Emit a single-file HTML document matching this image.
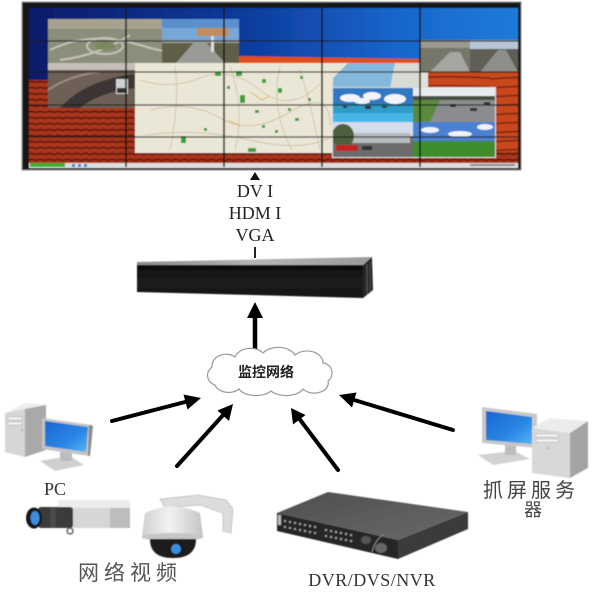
<!DOCTYPE html>
<html><head><meta charset="utf-8">
<style>
html,body{margin:0;padding:0;background:#fff;width:600px;height:600px;overflow:hidden}
svg{display:block}
.serif{font-family:"Liberation Serif","Noto Serif CJK SC",serif}
.cjk{font-family:"Liberation Sans","Noto Sans CJK SC",sans-serif}
</style></head>
<body>
<svg width="600" height="600" viewBox="0 0 600 600" xmlns="http://www.w3.org/2000/svg">
<defs>
  <linearGradient id="sky" x1="0" y1="0" x2="1" y2="0">
    <stop offset="0" stop-color="#0b1c6a"/>
    <stop offset="0.45" stop-color="#0f3c9e"/>
    <stop offset="0.75" stop-color="#1866cb"/>
    <stop offset="1" stop-color="#1e7bd8"/>
  </linearGradient>
  <pattern id="desert" width="9" height="6" patternUnits="userSpaceOnUse">
    <rect width="9" height="6" fill="#a8361a"/>
    <path d="M0,4.5 Q4.5,2.5 9,4.5" stroke="#5c1408" stroke-width="1.6" fill="none"/>
  </pattern>
  <pattern id="redr" width="98" height="9" patternUnits="userSpaceOnUse">
    <rect width="98" height="9" fill="#c8461c"/>
    <path d="M0,7 Q50,3 98,6" stroke="#7c220c" stroke-width="1.5" fill="none"/>
  </pattern>
  <linearGradient id="scr" x1="0" y1="0" x2="1" y2="1">
    <stop offset="0" stop-color="#1a66d2"/>
    <stop offset="0.6" stop-color="#2a86e4"/>
    <stop offset="1" stop-color="#5ab4f2"/>
  </linearGradient>
  <linearGradient id="boxf" x1="0" y1="0" x2="0" y2="1">
    <stop offset="0" stop-color="#0c0c0c"/>
    <stop offset="0.5" stop-color="#1e1e1e"/>
    <stop offset="1" stop-color="#141414"/>
  </linearGradient>
  <linearGradient id="boxt" x1="0" y1="0" x2="1" y2="0">
    <stop offset="0" stop-color="#8a8a8a"/>
    <stop offset="0.5" stop-color="#b4b4b4"/>
    <stop offset="1" stop-color="#9a9a9a"/>
  </linearGradient>
  <linearGradient id="dvrtop" x1="0" y1="0" x2="1" y2="1">
    <stop offset="0" stop-color="#4e4e4e"/>
    <stop offset="1" stop-color="#6a6a6a"/>
  </linearGradient>
  <linearGradient id="dome" x1="0" y1="0" x2="1" y2="0">
    <stop offset="0" stop-color="#d0d0d0"/>
    <stop offset="0.45" stop-color="#f2f2f2"/>
    <stop offset="1" stop-color="#c4c4c4"/>
  </linearGradient>
  <filter id="soft"><feGaussianBlur stdDeviation="0.6"/></filter>
</defs>

<!-- ============ VIDEO WALL ============ -->
<g filter="url(#soft)">
  <rect x="22" y="2" width="499" height="168" fill="#141414" stroke="#8a8a8a" stroke-width="1"/>
  <rect x="29" y="8" width="489" height="157" fill="url(#sky)"/>
  <rect x="29" y="80" width="110" height="85" fill="url(#desert)"/>
  <polygon points="239,56 420,59 420,64 239,64" fill="#e0501c"/>
  <rect x="420" y="72" width="98" height="93" fill="url(#redr)"/>
  <rect x="135" y="152" width="383" height="12" fill="url(#desert)"/>
  <rect x="135" y="63" width="285" height="90" fill="#ebe7d6"/>
  <rect x="420" y="72" width="8" height="16" fill="#e4e2d6"/>
  <polygon points="348,63 408,63 398,88 333,88 333,78" fill="#86b8de"/>
  <polygon points="395,63 420,63 420,88 390,88" fill="#d8dcd4"/>
  <g stroke="#c9bda6" stroke-width="0.8" fill="none">
    <path d="M140,80 Q170,90 200,78 T260,90 T320,84"/>
    <path d="M150,110 Q190,100 220,118 T290,112 T330,125"/>
    <path d="M175,66 Q180,100 170,150"/>
    <path d="M230,66 Q245,110 235,150"/>
    <path d="M280,66 Q270,110 292,150"/>
    <path d="M145,135 Q200,128 250,140 T330,138"/>
    <path d="M300,70 Q310,100 320,150"/>
  </g>
  <g stroke="#d8b040" stroke-width="0.8" fill="none">
    <path d="M250,92 L262,100 L270,96"/>
    <path d="M228,120 L240,126"/>
  </g>
  <g fill="#3aa040">
    <rect x="215" y="72" width="6" height="4"/><rect x="236" y="71" width="6" height="5"/>
    <rect x="262" y="79" width="4" height="4"/><rect x="240" y="95" width="5" height="8"/>
    <rect x="278" y="88" width="4" height="5"/><rect x="255" y="110" width="4" height="3"/>
    <rect x="181" y="136" width="5" height="7"/><rect x="248" y="148" width="8" height="4"/>
    <rect x="288" y="108" width="3" height="3"/><rect x="300" y="76" width="3" height="3"/>
    <rect x="204" y="128" width="3" height="3"/><rect x="275" y="130" width="3" height="3"/>
    <rect x="227" y="86" width="3" height="3"/><rect x="262" y="125" width="3" height="3"/>
    <rect x="295" y="118" width="4" height="3"/><rect x="308" y="98" width="3" height="3"/>
  </g>
  <rect x="48" y="19" width="114" height="44" fill="#8c8e7c"/>
  <rect x="48" y="19" width="114" height="10" fill="#a6a28e"/>
  <g stroke="#c4c2b4" stroke-width="2" fill="none">
    <path d="M50,50 Q90,30 140,45 T162,40"/>
    <ellipse cx="105" cy="46" rx="18" ry="8"/>
    <path d="M60,60 Q100,55 130,35"/>
  </g>
  <ellipse cx="105" cy="46" rx="10" ry="4" fill="#7a8a5e"/>
  <rect x="162" y="19" width="77" height="22" fill="#74a8d8"/>
  <rect x="162" y="19" width="77" height="9" fill="#5a90cc"/>
  <rect x="162" y="41" width="77" height="22" fill="#5e5e46"/>
  <polygon points="195,41 205,41 225,63 176,63" fill="#9a9a96"/>
  <rect x="162" y="40" width="77" height="3" fill="#a0a29a"/>
  <rect x="197" y="28" width="32" height="8" fill="#c48c5c"/>
  <rect x="211" y="36" width="3" height="16" fill="#dcdcdc"/>
  <rect x="48" y="63" width="87" height="45" fill="#6e6056"/>
  <rect x="48" y="63" width="87" height="7" fill="#c6beb6"/>
  <path d="M60,108 Q85,80 135,74 L135,88 Q100,92 80,108 z" fill="#3c3634"/>
  <path d="M48,90 Q70,75 100,72" stroke="#9a8c82" stroke-width="2" fill="none"/>
  <rect x="116" y="79" width="12" height="15" fill="#cfcfcf"/>
  <rect x="117" y="88" width="10" height="5" fill="#333"/>
  <rect x="420" y="40" width="50" height="32" fill="#76766a"/>
  <rect x="420" y="40" width="50" height="8" fill="#9a9a8e"/>
  <polygon points="430,72 450,52 460,52 470,72" fill="#a6a6a0"/>
  <rect x="470" y="40" width="48" height="32" fill="#5e5e56"/>
  <rect x="470" y="40" width="48" height="9" fill="#b6c6d6"/>
  <polygon points="480,72 498,50 506,50 518,72" fill="#8e8e8a"/>
  <rect x="333" y="88" width="80" height="34" fill="#2f78c4"/>
  <g fill="#f2f4f8">
    <ellipse cx="350" cy="98" rx="10" ry="4"/><ellipse cx="372" cy="96" rx="9" ry="4"/>
    <ellipse cx="395" cy="99" rx="11" ry="5"/><ellipse cx="362" cy="101" rx="8" ry="3"/>
  </g>
  <rect x="333" y="104" width="80" height="9" fill="#2e9cc6"/>
  <rect x="333" y="113" width="80" height="9" fill="#44b6e6"/>
  <g fill="#333"><rect x="343" y="106" width="4" height="2"/><rect x="365" y="106" width="6" height="3"/><rect x="382" y="106" width="5" height="2"/></g>
  <rect x="413" y="88" width="82" height="34" fill="#8a8c90"/>
  <rect x="413" y="88" width="82" height="8" fill="#e6ecf0"/>
  <rect x="413" y="96" width="82" height="4" fill="#4a5040"/>
  <polygon points="413,100 440,100 430,122 413,122" fill="#5a8a3c"/>
  <g fill="#333"><rect x="450" y="104" width="6" height="3"/><rect x="470" y="108" width="7" height="3"/><rect x="484" y="102" width="6" height="3"/></g>
  <rect x="333" y="122" width="80" height="35" fill="#6c6c6c"/>
  <rect x="333" y="122" width="80" height="14" fill="#d2dcea"/>
  <rect x="350" y="133" width="60" height="10" fill="#b8bcc0"/>
  <ellipse cx="343" cy="136" rx="11" ry="12" fill="#4e5e3e"/>
  <rect x="336" y="145" width="22" height="6" fill="#c42020"/>
  <rect x="362" y="146" width="10" height="4" fill="#333"/>
  <rect x="413" y="122" width="82" height="35" fill="#3f8e2c"/>
  <rect x="413" y="122" width="82" height="19" fill="#4c80d2"/>
  <g fill="#eef2fa"><ellipse cx="430" cy="130" rx="9" ry="3"/><ellipse cx="460" cy="134" rx="12" ry="3"/><ellipse cx="485" cy="127" rx="8" ry="3"/></g>
  <rect x="332.5" y="87.5" width="163" height="70" fill="none" stroke="#d8d8d8" stroke-width="1"/>
  <rect x="29" y="163" width="489" height="5" fill="#dedede"/>
  <rect x="30" y="163" width="35" height="4" fill="#3cb030"/>
  <g fill="#4a7ad0"><rect x="72" y="164" width="3" height="3"/><rect x="78" y="164" width="3" height="3"/><rect x="84" y="164" width="3" height="3"/></g>
  <rect x="470" y="164" width="45" height="2" fill="#888"/>
  <g stroke="#121212" stroke-width="1.5">
    <line x1="126" y1="8" x2="126" y2="167"/><line x1="224" y1="8" x2="224" y2="167"/>
    <line x1="322" y1="8" x2="322" y2="167"/><line x1="420" y1="8" x2="420" y2="167"/>
  </g>
  <g stroke="#1c1c1c" stroke-width="1.2" opacity="0.85">
    <line x1="29" y1="41" x2="518" y2="41"/><line x1="29" y1="72" x2="518" y2="72"/>
    <line x1="29" y1="105" x2="518" y2="105"/><line x1="29" y1="137" x2="518" y2="137"/>
  </g>
</g>

<polygon points="255,172 250,180 260,180" fill="#111"/>
<g class="serif" font-size="18" fill="#222" text-anchor="middle">
  <text x="255" y="197">DV I</text>
  <text x="255" y="219">HDM I</text>
  <text x="255" y="241">VGA</text>
</g>
<line x1="255" y1="247" x2="255" y2="258" stroke="#222" stroke-width="2"/>

<g filter="url(#soft)">
  <polygon points="137,262 372,257 363,265 137,266" fill="url(#boxt)"/>
  <polygon points="137,265 363,265 363,298 137,292" fill="url(#boxf)"/>
  <polygon points="363,265 372,257 373,290 363,298" fill="#262626"/>
  <line x1="367" y1="264" x2="367" y2="294" stroke="#5a5a5a" stroke-width="1"/>
  <line x1="370" y1="262" x2="370" y2="291" stroke="#4a4a4a" stroke-width="1"/>
</g>

<line x1="255" y1="353" x2="255" y2="314" stroke="#000" stroke-width="4.5"/>
<polygon points="255,302 247,318 263,318" fill="#000"/>

<path d="M215,385 a10,10 0 0 1 -3,-18 a14,12 0 0 1 23,-10 a16,12 0 0 1 28,-4 a18,12 0 0 1 32,2 a16,12 0 0 1 28,8 a10,10 0 0 1 5,18 a14,10 0 0 1 -25,8 a18,10 0 0 1 -32,2 a18,10 0 0 1 -32,-2 a14,10 0 0 1 -24,-4 z" fill="#fff" stroke="#9a9a9a" stroke-width="1.2"/>
<text x="266" y="377" class="cjk" font-size="14" font-weight="bold" fill="#222" text-anchor="middle">监控网络</text>

<g stroke="#000" stroke-width="4" stroke-linecap="round">
  <line x1="112" y1="421" x2="189" y2="401"/>
  <line x1="177" y1="466" x2="225" y2="413"/>
  <line x1="338" y1="470" x2="298" y2="417"/>
  <line x1="453" y1="430" x2="351" y2="399"/>
</g>
<g fill="#000">
  <polygon points="201,398 183.5,394.5 187.5,409.5"/>
  <polygon points="233,404 217.5,410.5 229,421"/>
  <polygon points="291,408 293,424.5 305.5,415"/>
  <polygon points="339,395 352,407.5 356.5,392.5"/>
</g>

<g filter="url(#soft)">
  <polygon points="5,413 26,403 46,405 25,409" fill="#ececec"/>
  <polygon points="5,413 25,409 25,457 5,452" fill="#d6d6d6"/>
  <polygon points="25,409 46,405 46,450 25,457" fill="#a9a9a9"/>
  <rect x="8" y="417" width="14" height="3" fill="#f4f4f4" stroke="#aaa" stroke-width="0.5"/>
  <rect x="8" y="422" width="14" height="3" fill="#f4f4f4" stroke="#aaa" stroke-width="0.5"/>
  <circle cx="22" cy="430" r="1" fill="#6c6"/>
  <polygon points="40,461 70,456 84,465 55,471" fill="#cfcfcf"/>
  <rect x="60" y="449" width="12" height="12" fill="#bdbdbd"/>
  <polygon points="42,418 92,425 89,456 42,449" fill="#c4c4c4"/>
  <polygon points="89,425 93,426 90,456 88,456" fill="#8a8a8a"/>
  <polygon points="45,421 88,427 86,452 45,446" fill="url(#scr)"/>
</g>
<text x="55" y="495" class="serif" font-size="18" fill="#333" text-anchor="middle">PC</text>

<g filter="url(#soft)">
  <rect x="58" y="500" width="72" height="28" rx="3" fill="#d6d6d6"/>
  <rect x="58" y="500" width="72" height="8" rx="3" fill="#ececec"/>
  <rect x="110" y="508" width="20" height="20" fill="#bdbdbd"/>
  <rect x="38" y="507" width="35" height="21" rx="3" fill="#3a3a3a"/>
  <rect x="50" y="507" width="6" height="21" fill="#4a4a4a"/>
  <ellipse cx="34" cy="518" rx="8" ry="10.5" fill="#161616"/>
  <ellipse cx="35" cy="518" rx="4.5" ry="7" fill="#3b8ee0"/>
  <circle cx="70" cy="531" r="3" fill="none" stroke="#555" stroke-width="1.3"/>
  <polygon points="160,499 198,495 226,500 233,509 231,533 223,531 223,513 200,505 165,508" fill="#dcdcdc" stroke="#bdbdbd" stroke-width="0.8"/>
  <path d="M142,536 L145,513 Q172,500 200,513 L203,536 z" fill="url(#dome)"/>
  <ellipse cx="172.5" cy="537" rx="31" ry="4" fill="#c6c6c6"/>
  <path d="M150,539 Q150,558 173,558 Q196,558 196,539 z" fill="#1c1c1c"/>
  <circle cx="176" cy="549" r="5" fill="#3b8ee0"/>
</g>
<text x="130" y="580" class="cjk" font-size="21" letter-spacing="5" fill="#555" text-anchor="middle">网络视频</text>

<g filter="url(#soft)">
  <polygon points="277,513 328,492 468,512 398,540" fill="url(#dvrtop)"/>
  <polygon points="277,513 398,540 398,559 277,531" fill="#282828"/>
  <polygon points="398,540 468,512 468,529 398,559" fill="#3a3a3a"/>
  <g fill="#9a9a9a">
    <rect x="284" y="520" width="2" height="2"/><rect x="289" y="521" width="2" height="2"/><rect x="294" y="522" width="2" height="2"/><rect x="299" y="523" width="2" height="2"/><rect x="304" y="524" width="2" height="2"/><rect x="309" y="525" width="2" height="2"/><rect x="314" y="526" width="2" height="2"/>
    <rect x="284" y="526" width="2" height="2"/><rect x="289" y="527" width="2" height="2"/><rect x="294" y="528" width="2" height="2"/><rect x="299" y="529" width="2" height="2"/><rect x="304" y="530" width="2" height="2"/><rect x="309" y="531" width="2" height="2"/><rect x="314" y="532" width="2" height="2"/>
    <rect x="325" y="529" width="2" height="2"/><rect x="330" y="530" width="2" height="2"/><rect x="335" y="531" width="2" height="2"/><rect x="340" y="532" width="2" height="2"/><rect x="345" y="533" width="2" height="2"/><rect x="350" y="534" width="2" height="2"/>
    <rect x="325" y="535" width="2" height="2"/><rect x="330" y="536" width="2" height="2"/><rect x="335" y="537" width="2" height="2"/><rect x="340" y="538" width="2" height="2"/><rect x="345" y="539" width="2" height="2"/><rect x="350" y="540" width="2" height="2"/>
  </g>
  <rect x="278" y="515" width="3" height="10" fill="#bbb"/>
  <ellipse cx="366" cy="540" rx="5" ry="4" fill="#555"/>
  <ellipse cx="381" cy="548" rx="6" ry="5" fill="#666"/>
  <path d="M372,552 Q375,540 384,534" stroke="#888" stroke-width="1" fill="none"/>
</g>
<text x="372" y="586" class="serif" font-size="18" letter-spacing="0.5" fill="#333" text-anchor="middle">DVR/DVS/NVR</text>

<g filter="url(#soft)">
  <polygon points="478,455 514,451 530,459 493,465" fill="#d2d2d2"/>
  <rect x="505" y="444" width="11" height="11" fill="#bdbdbd"/>
  <polygon points="482,407 537,414 537,448 482,443" fill="#c8c8c8"/>
  <polygon points="486,411 532,417 532,444 486,440" fill="url(#scr)"/>
  <polygon points="532,428 550,418 588,421 570,433" fill="#ececec"/>
  <polygon points="532,428 570,433 570,478 532,473" fill="#d8d8d8"/>
  <polygon points="570,433 588,421 588,468 570,478" fill="#a4a4a4"/>
  <rect x="536" y="434" width="22" height="3" fill="#f6f6f6" stroke="#aaa" stroke-width="0.5"/>
  <rect x="536" y="439" width="22" height="3" fill="#f6f6f6" stroke="#aaa" stroke-width="0.5"/>
  <circle cx="548" cy="448" r="1" fill="#6c6"/>
</g>
<text x="531" y="497" class="cjk" font-size="20" letter-spacing="4" fill="#444" text-anchor="middle">抓屏服务</text>
<text x="533" y="516" class="cjk" font-size="18" fill="#444" text-anchor="middle">器</text>
</svg>
</body></html>
